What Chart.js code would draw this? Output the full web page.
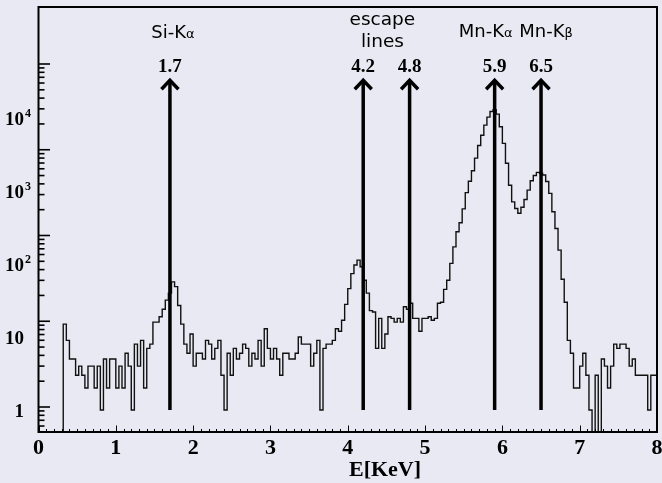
<!DOCTYPE html>
<html>
<head>
<meta charset="utf-8">
<script src="https://cdn.jsdelivr.net/npm/chart.js@4.4.0/dist/chart.umd.min.js"></script>
<style>
  html, body { margin: 0; padding: 0; background: #e9e9f3; }
  #wrap { width: 662px; height: 483px; }
</style>
</head>
<body>
<div id="wrap"><canvas id="spectrum"></canvas></div>
<script>
// histogram: 200 bins of 0.04 KeV from 0 to 8
var binLow = 0;
var binWidth = 0.04;
var counts = [
  0, 0, 0, 0, 0, 0, 0, 0, 15, 9, 5, 5, 3, 4, 3, 2, 4, 4, 2, 4,              // 0.0
  1, 5, 2, 5, 5, 2, 4, 2, 6, 4, 1, 8, 4, 9, 2, 7, 8, 16, 16, 19,            // 0.8
  24, 32, 40, 57, 49, 27, 15, 8, 6, 11, 4, 6, 6, 5, 9, 8, 5, 7, 9, 3,       // 1.6
  1, 6, 3, 7, 5, 6, 8, 7, 4, 6, 5, 9, 4, 13, 7, 5, 7, 5, 3, 6,              // 2.4
  6, 5, 5, 6, 10, 8, 8, 8, 4, 6, 9, 1, 7, 8, 8, 9, 13, 12, 17, 28,          // 3.2
  46, 74, 97, 113, 92, 60, 40, 23, 22, 7, 18, 7, 11, 19, 18, 16, 18, 16, 26, 24,   // 4.0
  29, 18, 18, 12, 18, 18, 19, 17, 18, 29, 30, 45, 60, 102, 172, 277, 368, 570, 950, 1360,   // 4.8
  1900, 2820, 4200, 5800, 8000, 10300, 12300, 13000, 11300, 7600,
  4500, 2400, 1200, 710, 577, 496, 600, 765, 1030, 1385,                    // 5.6
  1630, 1800, 1750, 1660, 1350, 930, 520, 307, 155, 62, 30, 9, 6, 2, 2, 4, 6, 3, 1, 0,   // 6.4
  3, 0, 5, 4, 2, 4, 8, 7, 8, 8, 7, 4, 5, 3, 3, 3, 3, 1, 3, 3                // 7.2
];

var lineEnergies = [1.7, 4.2, 4.8, 5.9, 6.5];
var lineLabels = ['1.7', '4.2', '4.8', '5.9', '6.5'];
var xTickLabels = ['0', '1', '2', '3', '4', '5', '6', '7', '8'];
var yTickValues = [1, 10, 100, 1000, 10000];
var yTickBases = ['1', '10', '10', '10', '10'];
var yTickExps = ['', '', '2', '3', '4'];

var yMin = 0.5, yMax = 3.32e5;
var arrowFrom = 1, arrowTo = 33000;

var points = [];
for (var k = 0; k < counts.length; k++) {
  points.push({ x: binLow + k * binWidth, y: counts[k] > 0 ? counts[k] : yMin });
}
points.push({ x: binLow + counts.length * binWidth, y: points[points.length - 1].y });

var SERIF = "'Liberation Serif', 'Times New Roman', serif";
var SANS = "'DejaVu Sans', sans-serif";

function drawSub(ctx, main, sub, cx, base, size) {
  ctx.font = size + 'px ' + SANS;
  var w1 = ctx.measureText(main).width;
  ctx.font = Math.round(size * 0.72) + 'px ' + SANS;
  var w2 = ctx.measureText(sub).width;
  var x0 = cx - (w1 + w2) / 2;
  ctx.textAlign = 'left';
  ctx.font = size + 'px ' + SANS;
  ctx.fillText(main, x0, base);
  ctx.font = Math.round(size * 0.72) + 'px ' + SANS;
  ctx.fillText(sub, x0 + w1, base);
}

var rootLook = {
  id: 'rootLook',
  beforeDraw: function(chart) {
    var ctx = chart.ctx;
    ctx.save();
    ctx.fillStyle = '#e9e9f3';
    ctx.fillRect(0, 0, chart.width, chart.height);
    ctx.restore();
  },
  afterDatasetsDraw: function(chart) {
    var ctx = chart.ctx;
    var a = chart.chartArea;
    var xs = chart.scales.x, ys = chart.scales.y, yt = chart.scales.yt;
    ctx.save();
    ctx.strokeStyle = '#000';
    ctx.fillStyle = '#000';

    // frame
    ctx.lineWidth = 2;
    ctx.strokeRect(a.left, a.top, a.right - a.left, a.bottom - a.top);

    // x ticks, pointing inwards
    ctx.lineWidth = 1;
    for (var i = 0; i <= 80; i++) {
      var px = Math.round(xs.getPixelForValue(i / 10)) + 0.5;
      var len = (i % 10 === 0) ? 6.5 : 3;
      ctx.beginPath();
      ctx.moveTo(px, a.bottom);
      ctx.lineTo(px, a.bottom - len);
      ctx.stroke();
    }
    // y ticks
    ctx.lineWidth = 1.6;
    for (var d = -1; d <= 4; d++) {
      for (var m = 1; m <= 9; m++) {
        var v = m * Math.pow(10, d);
        if (v < 0.55 || v > 10000) continue;
        var py = yt.getPixelForValue(v);
        ctx.beginPath();
        ctx.moveTo(a.left, py);
        ctx.lineTo(a.left + (m === 1 ? 11.5 : 6), py);
        ctx.stroke();
      }
    }

    // x labels
    ctx.font = 'bold 22px ' + SERIF;
    ctx.textAlign = 'center';
    ctx.textBaseline = 'alphabetic';
    xTickLabels.forEach(function(t, j) {
      ctx.fillText(t, xs.getPixelForValue(j), 454);
    });
    ctx.fillText('E[KeV]', 385, 476);

    // y labels
    yTickValues.forEach(function(v, j) {
      var py = ys.getPixelForValue(v);
      ctx.font = 'bold 19px ' + SERIF;
      ctx.textAlign = 'right';
      ctx.fillText(yTickBases[j], 24, py + 6.5);
      if (yTickExps[j]) {
        ctx.font = 'bold 12px ' + SERIF;
        ctx.textAlign = 'left';
        ctx.fillText(yTickExps[j], 25, py - 1.5);
      }
    });

    // arrows
    ctx.lineWidth = 3.5;
    ctx.lineJoin = 'miter';
    var yb = ys.getPixelForValue(arrowFrom);
    var ytop = ys.getPixelForValue(arrowTo);
    lineEnergies.forEach(function(e, j) {
      var px = xs.getPixelForValue(e);
      ctx.beginPath();
      ctx.moveTo(px, yb);
      ctx.lineTo(px, ytop);
      ctx.stroke();
      ctx.beginPath();
      ctx.moveTo(px - 8.5, ytop + 9);
      ctx.lineTo(px, ytop);
      ctx.lineTo(px + 8.5, ytop + 9);
      ctx.stroke();
      ctx.font = 'bold 19px ' + SERIF;
      ctx.textAlign = 'center';
      ctx.fillText(lineLabels[j], px, 72);
    });

    // line names
    var p17 = xs.getPixelForValue(1.7);
    var p42 = xs.getPixelForValue(4.2), p48 = xs.getPixelForValue(4.8);
    var p59 = xs.getPixelForValue(5.9), p65 = xs.getPixelForValue(6.5);
    drawSub(ctx, 'Si-K', 'α', p17 + 3, 37.5, 18);
    drawSub(ctx, 'Mn-K', 'α', p59 - 9, 37, 18);
    drawSub(ctx, 'Mn-K', 'β', p65 + 5, 37, 18);
    ctx.font = '18.5px ' + SANS;
    ctx.textAlign = 'center';
    ctx.fillText('escape', (p42 + p48) / 2 - 4, 25);
    ctx.fillText('lines', (p42 + p48) / 2 - 4, 47);
    ctx.restore();
  }
};

new Chart(document.getElementById('spectrum'), {
  type: 'line',
  data: {
    datasets: [{
      data: points,
      stepped: true,
      borderColor: '#111',
      borderWidth: 1.4,
      pointRadius: 0,
      fill: false,
      tension: 0
    }]
  },
  options: {
    responsive: true,
    maintainAspectRatio: false,
    animation: false,
    events: [],
    layout: { padding: { left: 38.5, right: 5, top: 7, bottom: 51 } },
    plugins: { legend: { display: false }, tooltip: { enabled: false } },
    scales: {
      x: { type: 'linear', min: 0, max: 8, display: false },
      y: { type: 'logarithmic', min: yMin, max: yMax, display: false },
      yt: { type: 'logarithmic', min: 0.511, max: 46200, display: false, position: 'left' }
    }
  },
  plugins: [rootLook]
});
</script>
</body>
</html>
